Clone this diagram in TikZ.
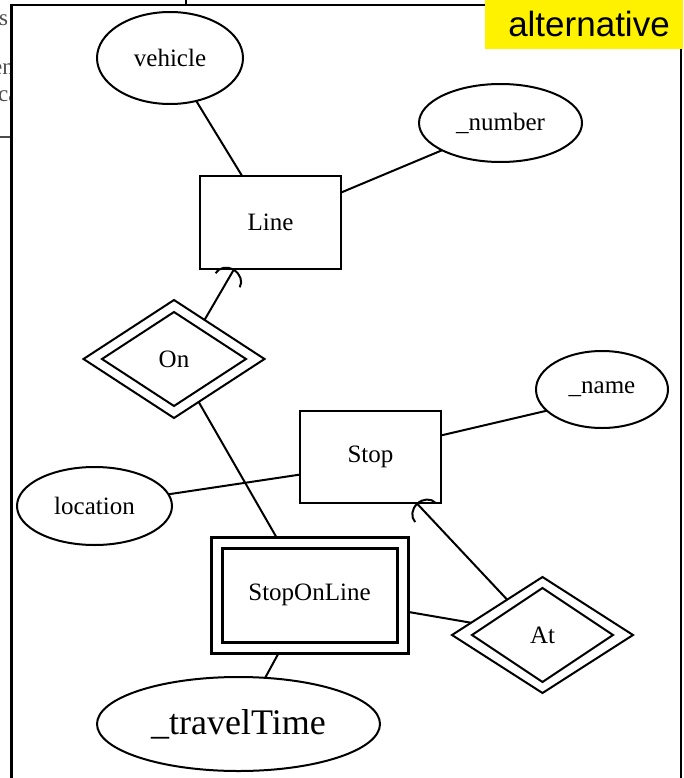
\documentclass[tikz,border=0pt]{standalone}
\usepackage{fontspec}
\setmainfont{Liberation Serif}
\newfontfamily\labelsans{Liberation Sans}
\usetikzlibrary{shapes.geometric,arrows.meta}

\tikzset{
  er/.style={line width=2pt, draw=black, fill=white, inner sep=0pt, outer sep=0pt,
             font=\fontsize{25}{30}\selectfont},
  entity/.style={er, rectangle, minimum width=141pt, minimum height=93pt},
  attr/.style={er, ellipse},
  rel/.style={er, diamond},
  link/.style={line width=2pt},
  partial/.style={line width=2pt, -{Arc Barb[width=30pt,length=13pt]}},
  pagebit/.style={inner sep=0pt, text=black!70, font=\fontsize{23}{27}\selectfont},
}

\begin{document}
\begin{tikzpicture}[x=1pt,y=-1pt]
\useasboundingbox (0,0) rectangle (683,778);

% text of the surrounding page, cut by the frame
\node[pagebit, anchor=base west] (bitA) at (-1,26) {s};
\node[pagebit, anchor=base east] (bitB) at (14,75) {en};
\node[pagebit, anchor=base west] (bitC) at (-2,102) {ca};
\draw[line width=1.2pt, black!70] (0,137) -- (11.5,137);
\draw[line width=1.5pt] (186,0) -- (186,5);

% frame
\fill[white] (11.5,5) rectangle (681,778);
\draw[line width=2.5pt] (11.5,778) -- (11.5,5) -- (486,5);
\draw[line width=2.5pt] (681,48) -- (681,778);

% label in the corner
\fill[yellow] (485,0) rectangle (683,49);
\node[inner sep=0pt, font=\labelsans\fontsize{35}{40}\selectfont, anchor=base] (alt) at (589,37) {alternative};

% entities, relationships, attributes
\node[attr, minimum width=146pt, minimum height=92pt] (vehicle) at (170,58) {vehicle};
\node[attr, minimum width=163pt, minimum height=78pt] (number) at (500.5,123) {\_number};
\node[entity] (Line) at (270.5,222.5) {Line};

\node[rel, minimum width=181pt, minimum height=118pt] (On) at (174,359) {};
\node[rel, minimum width=144pt, minimum height=94pt] (Onin) at (174,359) {On};

\node[attr, minimum width=132pt, minimum height=77pt] (nameattr) at (602,389.5) {\_name};
\node[entity, minimum height=92pt] (Stop) at (370.5,457) {Stop};
\node[attr, minimum width=155pt, minimum height=78pt] (location) at (94.5,506) {location};

\node[entity, line width=3pt, minimum width=197pt, minimum height=116pt] (SOL) at (309.5,595) {};
\node[entity, line width=3pt, minimum width=175pt, minimum height=94pt] (SOLin) at (309.5,595) {StopOnLine};

\node[rel, minimum width=181pt, minimum height=116pt] (At) at (542.5,635) {};
\node[rel, minimum width=141pt, minimum height=94pt] (Atin) at (542.5,635) {At};

\node[attr, minimum width=283pt, minimum height=94pt, font=\fontsize{36}{42}\selectfont] (travel) at (238.5,724) {\_travelTime};

% connectors
\draw[link] (vehicle) -- (Line);
\draw[link] (Line.23) -- (number.205);
\draw[partial] (On.52) -- (Line.232);
\draw[link] (On) -- (SOL);
\draw[link] (Stop.17) -- (nameattr.201);
\draw[link] (location.9) -- (Stop.194);
\draw[partial] (At.135) -- (Stop.-45);
\draw[link] (SOL) -- (At);
\draw[link] (SOL.242) -- (travel.60);
\end{tikzpicture}
\end{document}
